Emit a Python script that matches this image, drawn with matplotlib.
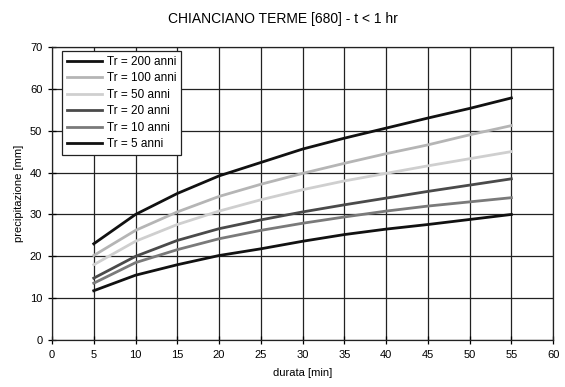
import matplotlib
matplotlib.use('Agg')
import matplotlib.pyplot as plt
import numpy as np

plt.rcParams.update({
    'font.family': ['Liberation Sans', 'DejaVu Sans'],
    'font.size': 8,
})

# durata [min]
durata = [5, 10, 15, 20, 25, 30, 35, 40, 45, 50, 55]

# precipitazione [mm] per tempo di ritorno
tr200 = [23.0, 30.0, 35.0, 39.2, 42.4, 45.6, 48.2, 50.6, 53.0, 55.3, 57.8]
tr100 = [20.2, 26.2, 30.6, 34.3, 37.2, 39.8, 42.2, 44.5, 46.6, 49.0, 51.2]
tr50 = [18.0, 23.6, 27.6, 30.8, 33.5, 35.9, 38.0, 39.8, 41.6, 43.3, 45.0]
tr20 = [14.8, 20.0, 23.8, 26.6, 28.7, 30.6, 32.3, 33.9, 35.5, 37.0, 38.5]
tr10 = [13.6, 18.5, 21.6, 24.2, 26.2, 27.9, 29.4, 30.8, 32.0, 33.0, 34.0]
tr5 = [11.8, 15.5, 18.0, 20.2, 21.8, 23.6, 25.2, 26.5, 27.6, 28.8, 30.0]

labels = ['Tr = 200 anni', 'Tr = 100 anni', 'Tr = 50 anni',
          'Tr = 20 anni', 'Tr = 10 anni', 'Tr = 5 anni']
series = [tr200, tr100, tr50, tr20, tr10, tr5]
colors = ['#111111', '#b5b5b5', '#cfcfcf', '#4a4a4a', '#7a7a7a', '#111111']

fig = plt.figure(figsize=(5.65, 3.87), dpi=100)
ax = fig.add_axes([0.092, 0.121, 0.887, 0.758])

for vals, lab, c in zip(series, labels, colors):
    ax.plot(durata, vals, color=c, linewidth=2.0, label=lab)

ax.set_xlim(0, 60)
ax.set_ylim(0, 70)
ax.set_xticks(np.arange(0, 61, 5))
ax.set_yticks(np.arange(0, 71, 10))
ax.grid(True, color='#222222', linewidth=0.9)
ax.set_axisbelow(True)
ax.tick_params(direction='inout', length=6, width=0.9, labelsize=8, pad=4)
for s in ax.spines.values():
    s.set_color('#222222')
    s.set_linewidth(0.9)

ax.set_xlabel('durata [min]', fontsize=8, labelpad=6)
ax.set_ylabel('precipitazione [mm]', fontsize=8, labelpad=4)

leg = ax.legend(loc='upper left', bbox_to_anchor=(0.008, 1.005), fontsize=8.5,
                handlelength=3.0, handletextpad=0.4, borderpad=0.4,
                labelspacing=0.38, fancybox=False, framealpha=1)
leg.get_frame().set_edgecolor('#222222')
leg.get_frame().set_linewidth(0.9)

fig.text(0.5, 0.952, 'CHIANCIANO TERME [680] - t < 1 hr', ha='center', va='center',
         fontsize=10)

fig.savefig('out.png', dpi=100)
